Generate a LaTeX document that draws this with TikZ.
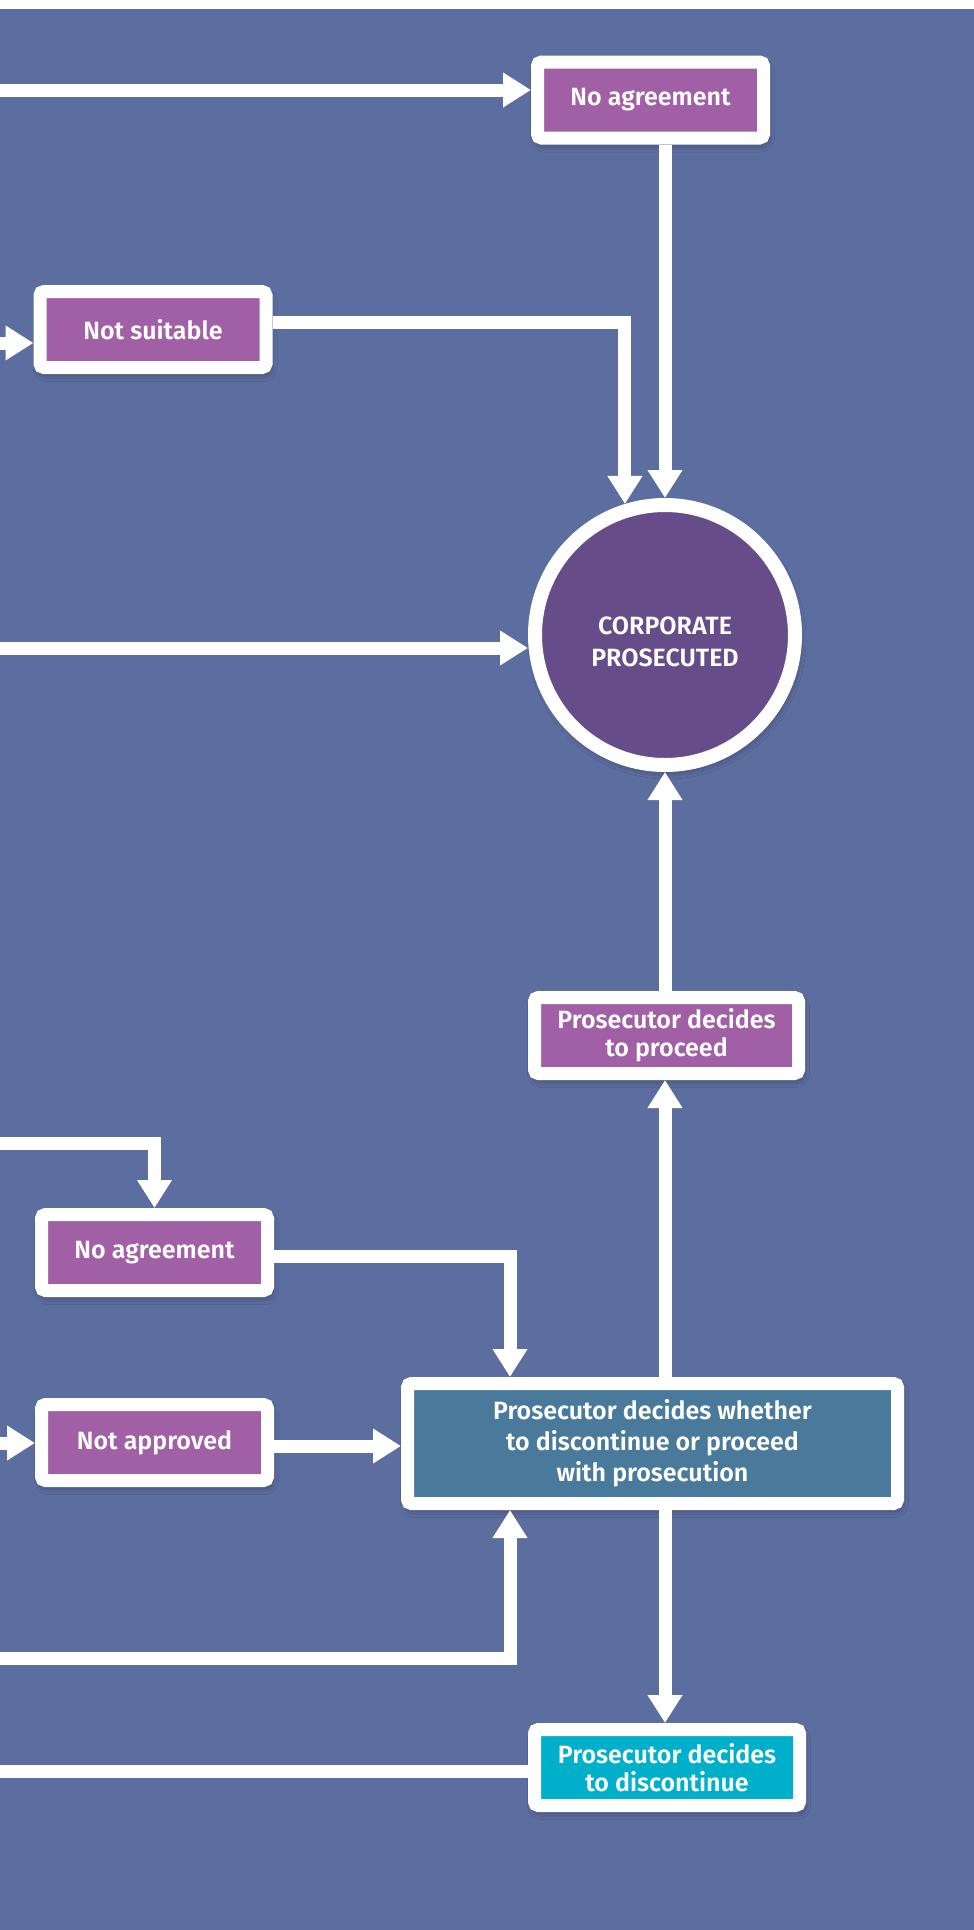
\documentclass[tikz,border=0pt]{standalone}
\usepackage{fontspec}
\setmainfont{Fira Sans}[BoldFont={Fira Sans SemiBold}]
\usepackage{tikz}
\usetikzlibrary{arrows.meta}
\usetikzlibrary{shadows.blur}

\definecolor{bgblue}{RGB}{92,109,160}
\definecolor{boxpurple}{RGB}{161,96,165}
\definecolor{circpurple}{RGB}{103,76,138}
\definecolor{steelblue}{RGB}{74,122,155}
\definecolor{cyanbox}{RGB}{0,176,203}

\tikzset{
  box/.style={draw=white, line width=13pt, rounded corners=4pt, fill=boxpurple,
    text=white, font=\fontsize{25}{28}\selectfont\bfseries, align=center,
    minimum width=226pt, minimum height=76pt, inner sep=0pt,
    blur shadow={shadow xshift=2pt, shadow yshift=-5pt, shadow blur radius=9pt, shadow opacity=45}},
  flow/.style={white, line width=13pt, -{Triangle[length=28pt, width=33pt]}},
  link/.style={white, line width=13pt},
}

\begin{document}
\begin{tikzpicture}[x=1pt, y=-1pt]
    \useasboundingbox (0,0) rectangle (974,1930);
    \fill[white] (0,0) rectangle (974,1930);
    \fill[bgblue] (0,9) rectangle (974,1930);

    \node[box] (noagreeA) at (650.5,100) {No agreement};
    \node[box] (notsuit) at (153,329.5) {Not suitable};
    \node[circle, draw=white, line width=14pt, fill=circpurple, minimum size=260pt, inner sep=0pt,
      text=white, font=\fontsize{25}{32}\selectfont\bfseries, align=center,
      blur shadow={shadow xshift=2pt, shadow yshift=-5pt, shadow blur radius=9pt, shadow opacity=45}]
      (circ) at (665,635) {\rule{0pt}{31pt}CORPORATE\\PROSECUTED};
    \node[box, minimum width=264pt] (proceed) at (666.5,1035.5) {Prosecutor decides\\to proceed};
    \node[box] (noagreeB) at (154.5,1252.5) {No agreement};
    \node[box] (notappr) at (154.5,1442.5) {Not approved};
    \node[box, fill=steelblue, minimum width=490pt, minimum height=120pt,
      font=\fontsize{25}{31}\selectfont\bfseries] (decide) at (652.5,1443.5)
      {Prosecutor decides whether\\to discontinue or proceed\\with prosecution};
    \node[box, fill=cyanbox, minimum width=265pt] (discont) at (667,1767.5) {Prosecutor decides\\to discontinue};

    \coordinate (inA) at (-20,90);
    \coordinate (inB) at (-20,343);
    \coordinate (rowB) at (0,322);
    \coordinate (inC) at (-20,648);
    \coordinate (inD) at (-20,1143);
    \coordinate (rowE) at (0,1256);
    \coordinate (colE) at (510,0);
    \coordinate (inF) at (-20,1443);
    \coordinate (rowG) at (0,1446);
    \coordinate (inH) at (-20,1658);
    \coordinate (inI) at (-20,1771);

    \draw[flow] (inA) -- (inA -| noagreeA.west);
    \draw[flow] (noagreeA.south -| circ.north) -- (circ.north);
    \draw[flow] (inB) -- (inB -| notsuit.west);
    \draw[flow] (notsuit.east |- rowB) -| (circ.107.6);
    \draw[flow] (inC) -- (inC -| circ.west);
    \draw[flow] (proceed.north -| circ.south) -- (circ.south);

    \draw[flow] (decide.north -| circ.south) -- (proceed.south -| circ.south);
    \draw[flow] (inD) -| (noagreeB.north);
    \draw[flow] (noagreeB.east |- rowE) -| (decide.north -| colE);
    \draw[flow] (inF) -- (inF -| notappr.west);
    \draw[flow] (notappr.east |- rowG) -- (rowG -| decide.west);
    \draw[flow] (decide.south -| circ.south) -- (discont.north -| circ.south);
    \draw[flow] (inH) -| (decide.south -| colE);
    \draw[link] (discont.west |- inI) -- (inI);

\end{tikzpicture}
\end{document}
